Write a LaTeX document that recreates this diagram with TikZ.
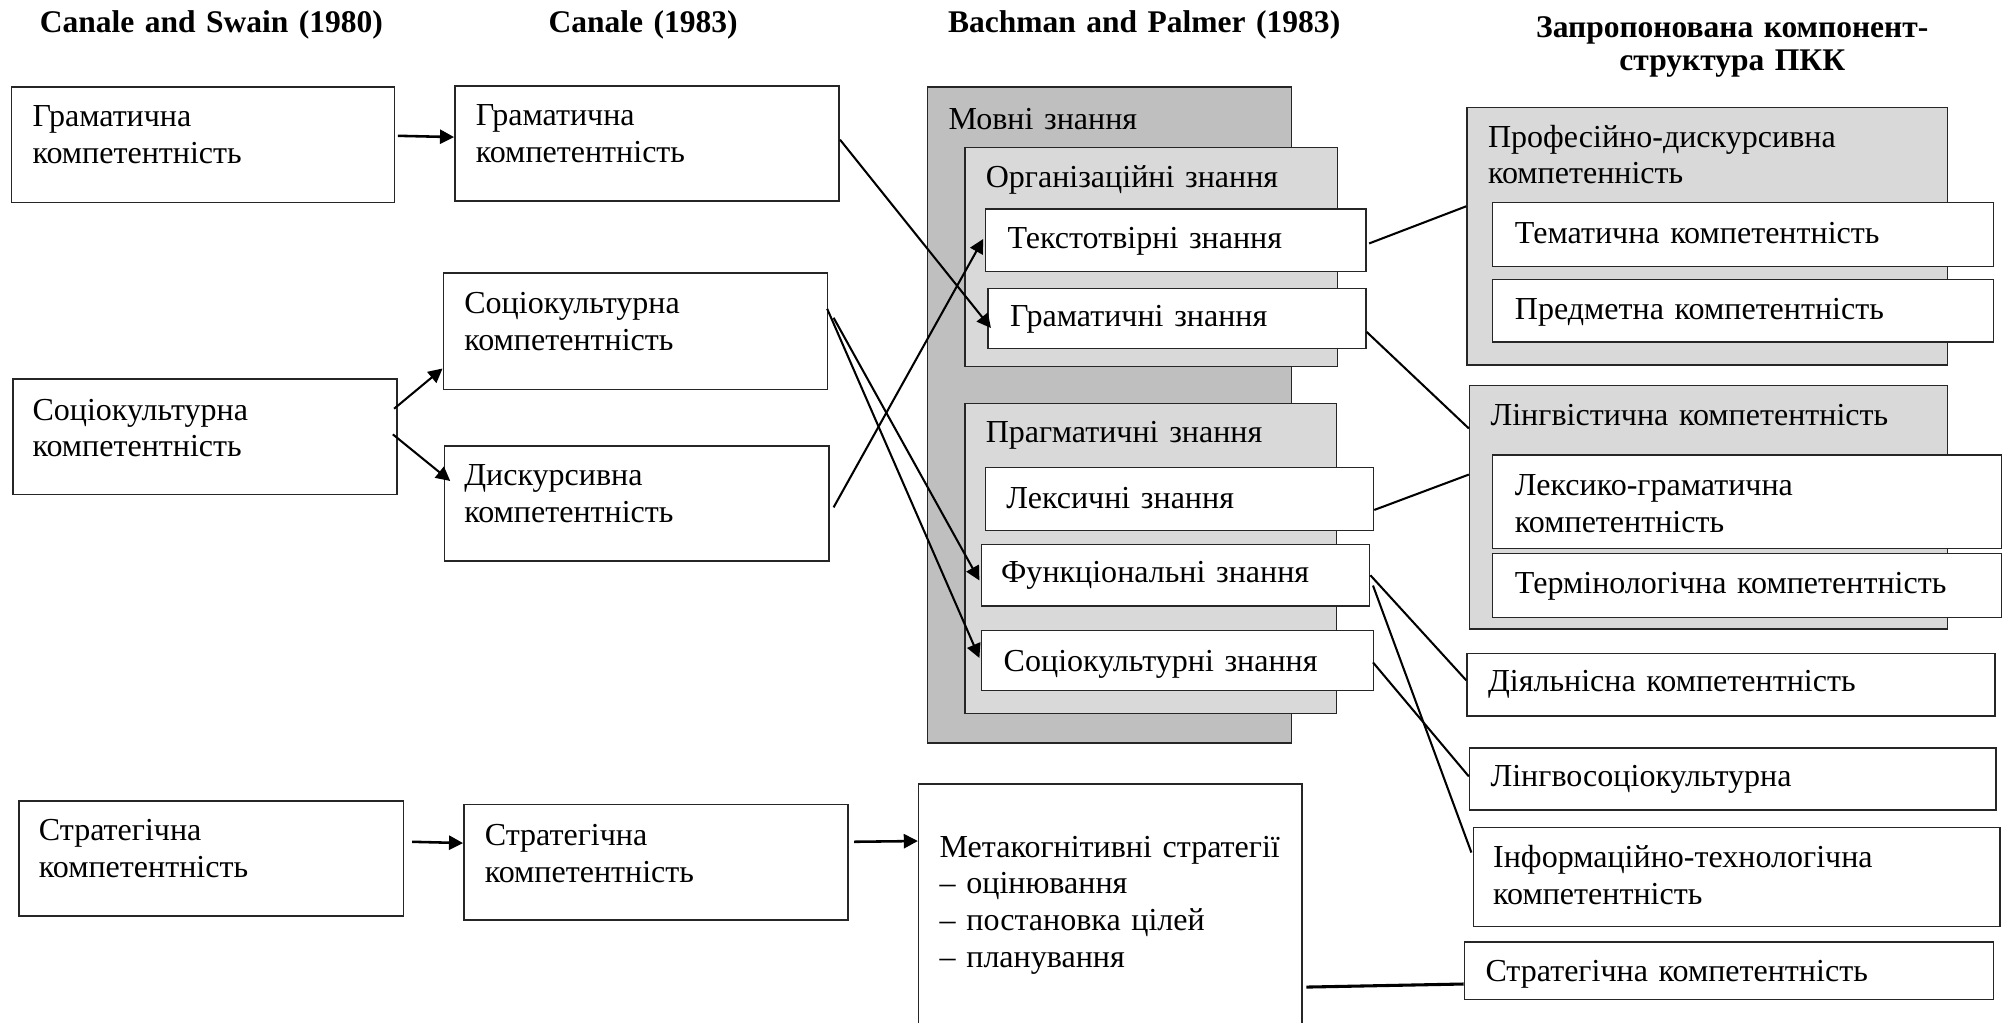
\documentclass[tikz,border=0pt]{standalone}
\usepackage{fontspec}
\setmainfont{Liberation Serif}
\usetikzlibrary{arrows.meta,fit,calc}
\begin{document}
\begin{tikzpicture}[x=0.5pt,y=-0.5pt,
  box/.style={draw=black!85,line width=0.6pt,fill=white,inner sep=0pt},
  darkbox/.style={box,fill=black!25},
  lightbox/.style={box,fill=black!15},
  txt/.style={anchor=base west,inner sep=0pt,text width=250pt,align=left,font=\fontsize{12.5}{14.3}\selectfont},
  hdr/.style={anchor=base,inner sep=0pt,text width=200pt,align=center,font=\fontsize{12.3}{13}\selectfont\bfseries},
  arr/.style={line width=0.8pt,-{Triangle[length=5.5pt,width=5.5pt]}},
  ln/.style={line width=0.8pt}]
\useasboundingbox (0,0) rectangle (1568,798);

% headers
\node[hdr] (h1) at (165,25) {Canale and Swain (1980)};
\node[hdr] (h2) at (502,25) {Canale (1983)};
\node[hdr] (h3) at (893,25) {Bachman and Palmer (1983)};
\node[hdr] (h4) at (1352,29) {Запропонована компонент-\\структура ПКК};

% column 1
\node[box, fit={(9,68)(308,158)}] (a1) {};
\node[box, fit={(10,296)(310,386)}] (a2) {};
\node[box, fit={(15,625)(315,715)}] (a3) {};
\node[txt] (a1t) at (25,99) {Граматична\\компетентність};
\node[txt] (a2t) at (25,328) {Соціокультурна\\компетентність};
\node[txt] (a3t) at (30,656) {Стратегічна\\компетентність};

% column 2
\node[box, fit={(355,67)(655,157)}] (b1) {};
\node[box, fit={(346,213)(646,304)}] (b2) {};
\node[box, fit={(347,348)(647,438)}] (b3) {};
\node[box, fit={(362,628)(662,718)}] (b4) {};
\node[txt] (b1t) at (371,98) {Граматична\\компетентність};
\node[txt] (b2t) at (362,245) {Соціокультурна\\компетентність};
\node[txt] (b3t) at (362,379) {Дискурсивна\\компетентність};
\node[txt] (b4t) at (378,660) {Стратегічна\\компетентність};

% column 3
\node[darkbox, fit={(724,68)(1008,580)}] (c0) {};
\node[lightbox, fit={(753,115)(1044,286)}] (c1) {};
\node[box, fit={(769,163)(1066,212)}] (c1a) {};
\node[box, fit={(771,225)(1066,272)}] (c1b) {};
\node[lightbox, fit={(753,315)(1043,557)}] (c2) {};
\node[box, fit={(769,365)(1072,414)}] (c2a) {};
\node[box, fit={(766,425)(1069,473)}] (c2b) {};
\node[box, fit={(766,492)(1072,539)}] (c2c) {};
\node[box, fit={(717,612)(1016,810)}] (c3) {};
\node[txt] (c0t) at (740,101) {Мовні знання};
\node[txt] (c1t) at (769,146) {Організаційні знання};
\node[txt] (c1at) at (786,194) {Текстотвірні знання};
\node[txt] (c1bt) at (788,255) {Граматичні знання};
\node[txt] (c2t) at (769,345) {Прагматичні знання};
\node[txt] (c2at) at (785,397) {Лексичні знання};
\node[txt] (c2bt) at (781,455) {Функціональні знання};
\node[txt] (c2ct) at (783,524) {Соціокультурні знання};
\node[txt] (c3t) at (733,669) {Метакогнітивні стратегії\\– оцінювання\\– постановка цілей\\– планування};

% column 4
\node[lightbox, fit={(1145,84)(1520,285)}] (d1) {};
\node[box, fit={(1165,158)(1556,208)}] (d1a) {};
\node[box, fit={(1165,218)(1556,267)}] (d1b) {};
\node[lightbox, fit={(1147,301)(1520,491)}] (d2) {};
\node[box, fit={(1165,355)(1562,428)}] (d2a) {};
\node[box, fit={(1165,432)(1562,482)}] (d2b) {};
\node[box, fit={(1145,510)(1557,559)}] (d3) {};
\node[box, fit={(1147,584)(1558,632)}] (d4) {};
\node[box, fit={(1150,646)(1561,723)}] (d5) {};
\node[box, fit={(1143,735)(1556,780)}] (d6) {};
\node[txt] (d1t) at (1161,115) {Професійно-дискурсивна\\компетенність};
\node[txt] (d1at) at (1182,190) {Тематична компетентність};
\node[txt] (d1bt) at (1182,249) {Предметна компетентність};
\node[txt] (d2t) at (1163,332) {Лінгвістична компетентність};
\node[txt] (d2at) at (1182,387) {Лексико-граматична\\компетентність};
\node[txt] (d2bt) at (1182,463) {Термінологічна компетентність};
\node[txt] (d3t) at (1161,540) {Діяльнісна компетентність};
\node[txt] (d4t) at (1163,614) {Лінгвосоціокультурна};
\node[txt] (d5t) at (1165,677) {Інформаційно-технологічна\\компетентність};
\node[txt] (d6t) at (1159,766) {Стратегічна компетентність};

% arrows
\draw[arr,line width=1pt] ($(a1.east)+(2,-7)$) -- ($(b1.west)+(0,-5)$);
\draw[arr] ($(a2.east)+(-3,-22)$) -- ($(b2.south west)+(0,-17)$);
\draw[arr] ($(a2.east)+(-4,-2)$) -- ($(b3.north west)+(5,28)$);
\draw[arr,line width=1pt] ($(a3.east)+(6,-13)$) -- ($(b4.west)+(0,-15)$);
\draw[arr,line width=1pt] ($(b4.east)+(4,-16)$) -- ($(c3.north west)+(0,45)$);
\draw[arr] ($(b1.east)+(0,-3)$) -- ($(c1b.west)+(3,7.5)$);
\draw[arr] ($(b3.east)+(3,3)$) -- ($(c1a.west)+(-1,-1)$);
\draw[arr] ($(b2.east)+(-1,-17.5)$) -- ($(c2c.west)+(-1,-2)$);
\draw[arr] ($(b2.east)+(4,-10.5)$) -- ($(c2b.west)+(-1,4)$);

% plain lines
\draw[ln] ($(c1a.east)+(2,2.5)$) -- ($(d1.west)+(0,-23.5)$);
\draw[ln] ($(c1b.east)+(0,10.5)$) -- ($(d2.north west)+(0,34)$);
\draw[ln] ($(c2a.east)+(0,8.5)$) -- ($(d2.north west)+(0,70)$);
\draw[ln] (c2b.east) -- ($(d3.west)+(0,-3.5)$);
\draw[ln] ($(c2b.east)+(2,8)$) -- ($(d5.north west)+(-1,20)$);
\draw[ln] ($(c2c.east)+(-1,1.5)$) -- ($(d4.west)+(0,-2)$);
\draw[ln,line width=1.2pt] ($(c3.north east)+(3,159)$) -- ($(d6.west)+(0,10.5)$);
\end{tikzpicture}
\end{document}
